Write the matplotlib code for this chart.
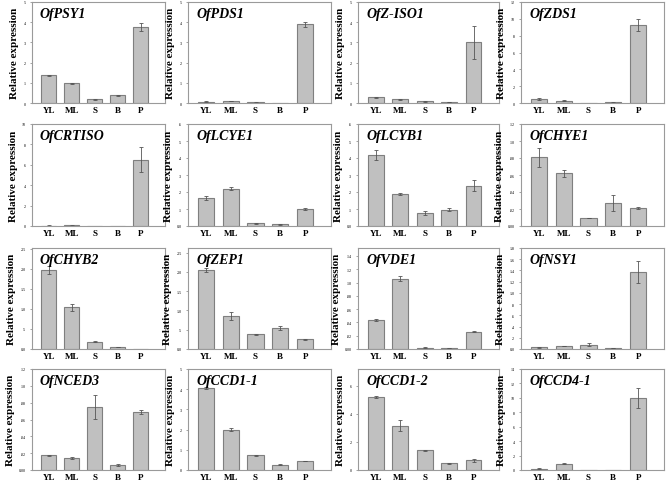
import matplotlib
matplotlib.use("Agg")
import matplotlib.pyplot as plt
import numpy as np

plt.rcParams['font.family'] = ['Liberation Serif', 'DejaVu Serif']

tissues = ["YL", "ML", "S", "B", "P"]

genes = ["OfPSY1", "OfPDS1", "OfZ-ISO1", "OfZDS1",
         "OfCRTISO", "OfLCYE1", "OfLCYB1", "OfCHYE1",
         "OfCHYB2", "OfZEP1", "OfVDE1", "OfNSY1",
         "OfNCED3", "OfCCD1-1", "OfCCD1-2", "OfCCD4-1"]

psy1 = [1.37, 0.98, 0.18, 0.38, 3.75]
psy1_err = [0.02, 0.02, 0.02, 0.03, 0.2]
pds1 = [0.07, 0.10, 0.03, 0.0, 3.9]
pds1_err = [0.02, 0.02, 0.01, 0.0, 0.12]
ziso1 = [0.28, 0.18, 0.08, 0.06, 3.0]
ziso1_err = [0.01, 0.02, 0.02, 0.01, 0.8]
zds1 = [0.45, 0.25, 0.04, 0.08, 9.3]
zds1_err = [0.1, 0.05, 0.01, 0.03, 0.7]
crtiso = [0.04, 0.05, 0.02, 0.0, 6.5]
crtiso_err = [0.01, 0.01, 0.005, 0.0, 1.2]
lcye1 = [0.165, 0.22, 0.015, 0.01, 0.1]
lcye1_err = [0.01, 0.01, 0.003, 0.003, 0.005]
lcyb1 = [0.42, 0.19, 0.077, 0.095, 0.238]
lcyb1_err = [0.03, 0.005, 0.01, 0.008, 0.035]
chye1 = [0.081, 0.062, 0.0095, 0.027, 0.021]
chye1_err = [0.011, 0.004, 0.0005, 0.009, 0.001]
chyb2 = [1.96, 1.04, 0.18, 0.05, 0.005]
chyb2_err = [0.1, 0.09, 0.01, 0.01, 0.002]
zep1 = [2.05, 0.85, 0.38, 0.54, 0.25]
zep1_err = [0.05, 0.1, 0.01, 0.05, 0.02]
vde1 = [0.0435, 0.106, 0.002, 0.0015, 0.026]
vde1_err = [0.002, 0.004, 0.0003, 0.0005, 0.001]
nsy1 = [0.03, 0.05, 0.08, 0.02, 1.37]
nsy1_err = [0.005, 0.005, 0.02, 0.005, 0.2]
nced3 = [0.0175, 0.014, 0.075, 0.006, 0.069]
nced3_err = [0.0003, 0.0015, 0.014, 0.001, 0.002]
ccd11 = [4.05, 2.0, 0.72, 0.27, 0.45]
ccd11_err = [0.05, 0.06, 0.01, 0.02, 0.02]
ccd12 = [5.2, 3.15, 1.4, 0.48, 0.68]
ccd12_err = [0.05, 0.4, 0.05, 0.04, 0.1]
ccd41 = [0.2, 0.9, 0.02, 0.01, 10.0]
ccd41_err = [0.02, 0.05, 0.005, 0.005, 1.4]

values = [psy1, pds1, ziso1, zds1, crtiso, lcye1, lcyb1, chye1,
          chyb2, zep1, vde1, nsy1, nced3, ccd11, ccd12, ccd41]
errors = [psy1_err, pds1_err, ziso1_err, zds1_err, crtiso_err, lcye1_err,
          lcyb1_err, chye1_err, chyb2_err, zep1_err, vde1_err, nsy1_err,
          nced3_err, ccd11_err, ccd12_err, ccd41_err]

# y-axis top, last tick, tick step, tick label decimals
ytops = [5, 5, 5, 12, 10, 0.6, 0.6, 0.12, 2.52, 2.62, 0.152, 1.8, 0.12, 5, 7.2, 14]
ylast = [5, 5, 5, 12, 10, 0.6, 0.6, 0.12, 2.5, 2.5, 0.14, 1.8, 0.12, 5, 6, 14]
ysteps = [1, 1, 1, 2, 2, 0.1, 0.1, 0.02, 0.5, 0.5, 0.02, 0.2, 0.02, 1, 2, 2]
ydec = [0, 0, 0, 0, 0, 1, 1, 2, 1, 1, 2, 1, 2, 0, 0, 0]


def fmt(v, d):
    if d == 0:
        return "%d" % round(v)
    s = ("%." + str(d) + "f") % v
    if abs(v) < 1e-9:
        return s
    if s.startswith("0."):
        s = s[1:]
    return s


W, H = 666, 485
col_x = [(32, 165), (188, 331), (358, 499), (521, 664)]
row_y = [(3, 104), (125, 227), (249, 350), (370, 471)]

fig = plt.figure(figsize=(6.66, 4.85), dpi=100)
x = np.arange(len(tissues))

for i in range(16):
    r, c = divmod(i, 4)
    x0, x1 = col_x[c]
    y0, y1 = row_y[r]
    ax = fig.add_axes([x0 / W, 1 - y1 / H, (x1 - x0) / W, (y1 - y0) / H])
    ax.bar(x, values[i], width=0.65, color="#c0c0c0", edgecolor="#7f7f7f",
           linewidth=0.8, yerr=errors[i], capsize=1.5,
           error_kw=dict(ecolor="#555555", elinewidth=0.6, capthick=0.6))
    ax.set_xlim(-0.72, 5.04)
    ax.set_ylim(0, ytops[i])
    ticks = np.arange(0, ylast[i] + 1e-9, ysteps[i])
    ax.set_yticks(ticks)
    ax.set_yticklabels([fmt(t, ydec[i]) for t in ticks])
    ax.tick_params(axis="y", labelsize=3, length=1.5, width=0.5,
                   color="#7f7f7f", pad=3)
    ax.set_xticks(x)
    ax.set_xticklabels(tissues, fontsize=6.5, fontweight="bold")
    ax.tick_params(axis="x", length=0, pad=2.5)
    for sp in ax.spines.values():
        sp.set_color("#9a9a9a")
        sp.set_linewidth(0.8)
    ax.text(0.06, 0.955, genes[i], transform=ax.transAxes, fontsize=10,
            fontweight="bold", fontstyle="italic", va="top", ha="left",
            zorder=5)
    ax.set_ylabel("Relative expression", fontsize=8, fontweight="bold",
                  labelpad=3)

fig.savefig("out.png", dpi=100)
